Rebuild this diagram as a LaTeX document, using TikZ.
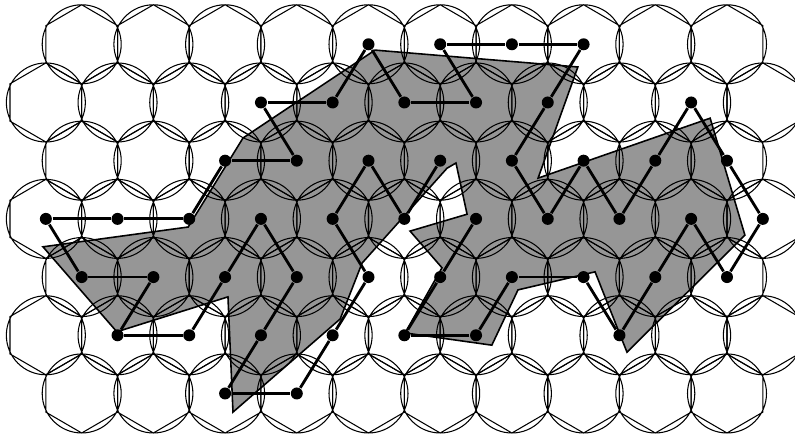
\documentclass[tikz,border=0pt]{standalone}
\definecolor{shadegray}{RGB}{150, 150, 150}
\usepackage{tikz}
\usepackage{xcolor}
\tikzstyle{bead} = [circle, fill=black, inner sep=0pt, minimum size=0.12cm]
\tikzstyle{cell} = [line width=0.3pt, black]
\tikzstyle{chain} = [line width=0.8pt, black]

\begin{document}
\begin{tikzpicture}[x=0.3585cm, y=-0.582cm]
            % Frame of the picture
            \useasboundingbox (-0.279,-0.761) rectangle (21.897,6.816);

            % Shaded region
            \draw[fill=shadegray, line width=0.45pt] (10.18,0.10) -- (6.50,1.61) -- (4.97,3.14) -- (0.92,3.48)
                -- (2.98,4.94) -- (6.08,4.34) -- (6.22,6.32) -- (9.21,4.72) -- (9.82,3.76)
                -- (12.19,2.13) -- (12.44,2.04) -- (12.75,2.92) -- (11.16,3.21) -- (12.05,3.84)
                -- (11.02,4.96) -- (13.44,5.17) -- (14.17,4.22) -- (16.32,3.91) -- (17.21,5.29)
                -- (20.50,3.28) -- (19.53,1.27) -- (14.73,2.30) -- (15.84,0.39) -- cycle;

            % Hexagonal cells with their circles
            \begin{scope}
                \clip (-0.279,-0.761) rectangle (21.897,6.816);
                \foreach \r in {0,2,4,6}
                    \foreach \c in {2,4,...,20}
                        \draw[cell] (\c,\r) circle[radius=0.395cm] ++(0,-0.679) -- ++(1,0.358) -- ++(0,0.642)
                            -- ++(-1,0.358) -- ++(-1,-0.358) -- ++(0,-0.642) -- cycle;
                \foreach \r in {1,3,5}
                    \foreach \c in {1,3,...,21}
                        \draw[cell] (\c,\r) circle[radius=0.395cm] ++(0,-0.679) -- ++(1,0.358) -- ++(0,0.642)
                            -- ++(-1,0.358) -- ++(-1,-0.358) -- ++(0,-0.642) -- cycle;
            \end{scope}

            % Chain of beads
            \foreach \bx/\by [count=\i] in {12/2, 11/3, 10/2, 9/3, 10/4, 9/5, 8/6, 6/6, 7/5, 8/4, 7/3, 6/4,
                    5/5, 3/5, 4/4, 2/4, 1/3, 3/3, 5/3, 6/2, 8/2, 7/1, 9/1, 10/0, 11/1, 13/1, 12/0, 14/0,
                    16/0, 15/1, 14/2, 15/3, 16/2, 17/3, 18/2, 19/1, 20/2, 21/3, 20/4, 19/3, 18/4, 17/5,
                    16/4, 14/4, 13/5, 11/5, 12/4, 13/3}
                \node[bead] (bead\i) at (\bx,\by) {};
            \foreach \i [remember=\i as \j (initially 1)] in {2,...,48}
                \draw[chain] (bead\j) -- (bead\i);
        \end{tikzpicture}
\end{document}
